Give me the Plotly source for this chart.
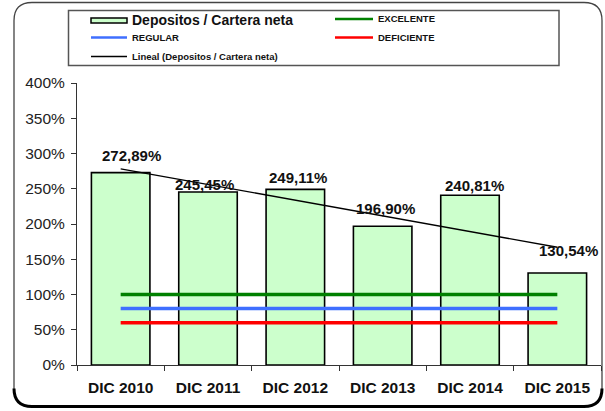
import numpy as np
import plotly.graph_objects as go

# ---------------- data ----------------
categories = ["DIC 2010", "DIC 2011", "DIC 2012", "DIC 2013", "DIC 2014", "DIC 2015"]
ratio_values = [272.89, 245.45, 249.11, 196.90, 240.81, 130.54]
excelente = [100] * 6
regular = [80] * 6
deficiente = [60] * 6
y_ticks = [0, 50, 100, 150, 200, 250, 300, 350, 400]
bar_name = "Depositos / Cartera neta"
trend_name = "Lineal (Depositos / Cartera neta)"

# label nudges (pixels) to mimic the manual placement in the original
label_xshift = [11, -4, 3, 3, 4, 11]
label_yshift = [17, 7, 12, 18, 10, 22]

# ---------------- layout helpers ----------------
W, H = 605, 411
ML, MR, MT, MB = 77, 4, 83, 46
PW, PH = W - ML - MR, H - MT - MB


def px(x):
    return (x - ML) / PW


def py(y):
    return (H - MB - y) / PH


FONT = "Liberation Sans, Arial, sans-serif"
TXT = "#111111"

# trend line from least squares fit of the data
xi = np.arange(1, len(ratio_values) + 1)
slope, intercept = np.polyfit(xi, ratio_values, 1)
trend = (slope * xi + intercept).tolist()

fig = go.Figure()
fig.add_trace(go.Bar(x=categories, y=ratio_values, name=bar_name, width=0.67,
                     marker=dict(color="#CCFFCC", line=dict(color="#000000", width=1.6))))
fig.add_trace(go.Scatter(x=categories, y=excelente, mode="lines", name="EXCELENTE",
                         line=dict(color="#008000", width=3.5)))
fig.add_trace(go.Scatter(x=categories, y=regular, mode="lines", name="REGULAR",
                         line=dict(color="#3F6FFF", width=3.5)))
fig.add_trace(go.Scatter(x=categories, y=deficiente, mode="lines", name="DEFICIENTE",
                         line=dict(color="#FF0000", width=3.5)))
fig.add_trace(go.Scatter(x=categories, y=trend, mode="lines", name=trend_name,
                         line=dict(color="#000000", width=1.4)))

annotations = []
for c, v, dx, dy in zip(categories, ratio_values, label_xshift, label_yshift):
    annotations.append(dict(x=c, y=v, xref="x", yref="y", text="<b>%s%%</b>" % f"{v:.2f}".replace(".", ","),
                            showarrow=False, xanchor="center", yanchor="middle",
                            xshift=dx, yshift=dy,
                            font=dict(family=FONT, size=15, color=TXT)))

# manual legend
legend_items_text = [
    (130, 20, "<b>Depositos / Cartera neta</b>", 14),
    (130, 37.5, "<b>REGULAR</b>", 9.5),
    (130, 56.5, "<b>" + trend_name + "</b>", 9.5),
    (376, 19, "<b>EXCELENTE</b>", 9.5),
    (376, 37.5, "<b>DEFICIENTE</b>", 9.5),
]
for x, y, t, s in legend_items_text:
    annotations.append(dict(x=px(x), y=py(y), xref="paper", yref="paper", text=t, showarrow=False,
                            xanchor="left", yanchor="middle", font=dict(family=FONT, size=s, color=TXT)))

shapes = []
# outer rounded frame
x0, x1, y0, y1, r = 14, 602, 2.5, 406.5, 18
path = (f"M {px(x0+r)},{py(y0)} L {px(x1-r)},{py(y0)} Q {px(x1)},{py(y0)} {px(x1)},{py(y0+r)} "
        f"L {px(x1)},{py(y1-r)} Q {px(x1)},{py(y1)} {px(x1-r)},{py(y1)} "
        f"L {px(x0+r)},{py(y1)} Q {px(x0)},{py(y1)} {px(x0)},{py(y1-r)} "
        f"L {px(x0)},{py(y0+r)} Q {px(x0)},{py(y0)} {px(x0+r)},{py(y0)} Z")
shapes.append(dict(type="path", xref="paper", yref="paper", path=path,
                   line=dict(color="#444444", width=1.3), layer="below"))
bpath = (f"M {px(x0)},{py(y1-r)} Q {px(x0)},{py(y1)} {px(x0+r)},{py(y1)} "
         f"L {px(x1-r)},{py(y1)} Q {px(x1)},{py(y1)} {px(x1)},{py(y1-r)}")
shapes.append(dict(type="path", xref="paper", yref="paper", path=bpath,
                   line=dict(color="#000000", width=3)))
# legend box
shapes.append(dict(type="rect", xref="paper", yref="paper", x0=px(68.5), x1=px(559), y0=py(10.5), y1=py(65.5),
                   line=dict(color="#555555", width=1.5), fillcolor="white"))
# legend swatches
shapes.append(dict(type="rect", xref="paper", yref="paper", x0=px(91), x1=px(127), y0=py(18), y1=py(23),
                   line=dict(color="#000000", width=1.5), fillcolor="#CCFFCC"))
for (xa, xb, y, col, w) in [(91, 127, 37.5, "#3F6FFF", 2.5), (91, 127, 56.5, "#000000", 1.5),
                            (335, 373, 19, "#008000", 2.5), (335, 373, 37.5, "#FF0000", 2.5)]:
    shapes.append(dict(type="line", xref="paper", yref="paper", x0=px(xa), x1=px(xb), y0=py(y), y1=py(y),
                       line=dict(color=col, width=w)))

fig.update_layout(
    width=W, height=H,
    margin=dict(l=ML, r=MR, t=MT, b=MB, pad=0),
    paper_bgcolor="white", plot_bgcolor="white",
    showlegend=False,
    bargap=0.33,
    annotations=annotations,
    shapes=shapes,
    font=dict(family=FONT, color=TXT),
)
fig.update_xaxes(type="category", range=[-0.5, 5.5], showgrid=False, showline=True, linecolor="#333333",
                 linewidth=1, ticks="outside", tickson="boundaries", ticklen=5, tickcolor="#333333",
                 ticklabelstandoff=8,
                 tickfont=dict(family=FONT, size=15.5, color=TXT),
                 tickvals=categories, ticktext=["<b>%s</b>" % c for c in categories])
fig.update_yaxes(range=[0, 400], tickvals=y_ticks, ticktext=["%d%%" % v for v in y_ticks],
                 showgrid=False, zeroline=False, showline=True, linecolor="#333333", linewidth=1,
                 ticks="outside", ticklen=5, tickcolor="#333333", ticklabelstandoff=3,
                 tickfont=dict(family=FONT, size=15.5, color="#222222"))

fig.write_html("out.html", config={"displayModeBar": False},
               post_script="document.body.style.margin='0';document.body.style.overflow='hidden';")
